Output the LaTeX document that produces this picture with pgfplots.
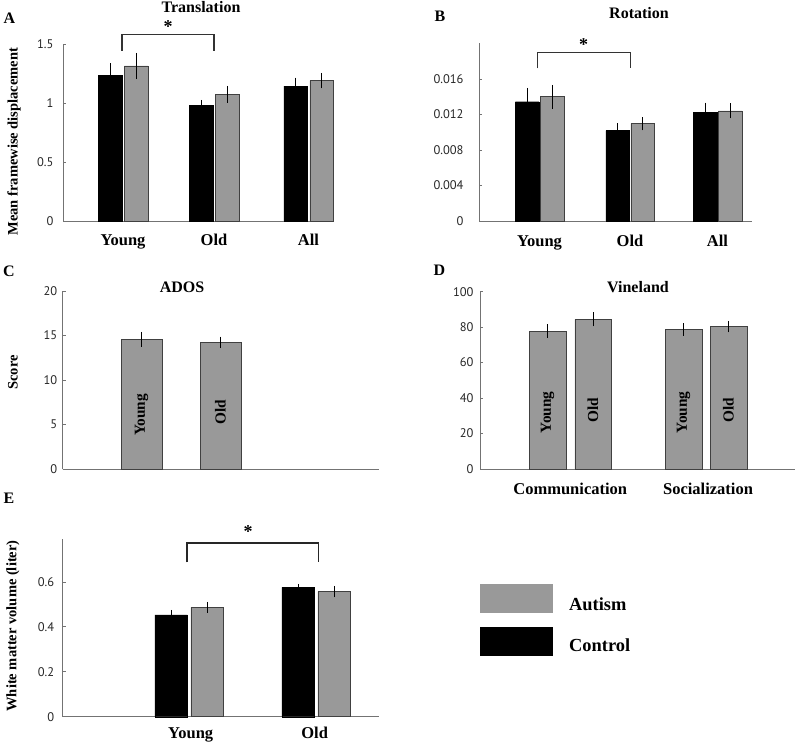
\documentclass[border=0pt]{standalone}
\usepackage{pgfplots}
\pgfplotsset{compat=1.18}
\usepackage{fontspec}
\setmainfont{Liberation Serif}
\newfontfamily\ticksans{PT Sans}
\definecolor{autgray}{RGB}{153,153,153}
\definecolor{axgray}{RGB}{115,115,115}
\newcommand{\fs}[1]{\fontsize{#1}{#1}\selectfont}
\pgfplotsset{
  panel/.style={
    scale only axis,
    axis lines=left,
    axis line style={axgray, line width=0.9pt, -},
    xmin=0, ymin=0,
    xtick style={draw=none},
    ytick style={axgray, line width=0.8pt},
    major tick length=3pt,
    tick align=inside,
    yticklabel style={font=\fs{12.5}\ticksans, text=black!85, anchor=east},
    xticklabel style={font=\fs{16.5}\bfseries, anchor=base, yshift=-22pt},
    scaled y ticks=false,
    clip=false,
    ybar,
  },
  ctrl/.style={fill=black, draw=black, line width=0.4pt},
  aut/.style={fill=autgray, draw=black!75, line width=0.5pt},
  ebar/.style={
    error bars/y dir=both, error bars/y explicit,
    error bars/error bar style={black, line width=0.5pt},
    error bars/error mark options={black, mark size=1.3pt, line width=0.5pt}},
}
\begin{document}
\begin{tikzpicture}
\useasboundingbox (0pt,0pt) rectangle (800pt,-743pt);

% ---------- Panel A ----------
\begin{axis}[panel, at={(63pt,-221pt)}, anchor=south west, width=270pt, height=177pt,
  xmax=270, ymax=1.5, ytick={0,0.5,1,1.5}, yticklabels={0,0.5,1,1.5},
  yticklabel style={xshift=-6pt},
  xtick={60,151,245.5}, xticklabels={Young,Old,All}, bar width=23.5]
\addplot[ctrl, bar shift=-13, ebar] coordinates {(60,1.235) +- (0,0.09) (151,0.98) +- (0,0.035) (245.5,1.144) +- (0,0.06)};
\addplot[aut, bar shift=13, ebar] coordinates {(60,1.314) +- (0,0.10) (151,1.074) +- (0,0.06) (245.5,1.189) +- (0,0.055)};
\end{axis}

% ---------- Panel B ----------
\begin{axis}[panel, at={(479pt,-221pt)}, anchor=south west, width=273pt, height=177.5pt,
  xmax=273, ymax=0.02, ytick={0,0.004,0.008,0.012,0.016}, yticklabels={0,0.004,0.008,0.012,0.016},
  yticklabel style={xshift=-12pt},
  xtick={60.5,151,238.5}, xticklabels={Young,Old,All}, bar width=23.5]
\addplot[ctrl, bar shift=-12.5, ebar] coordinates {(60.5,0.01344) +- (0,0.0014) (151,0.01018) +- (0,0.0007) (238.5,0.01228) +- (0,0.0009)};
\addplot[aut, bar shift=12.5, ebar] coordinates {(60.5,0.0140) +- (0,0.0012) (151,0.01096) +- (0,0.0006) (238.5,0.0124) +- (0,0.0007)};
\end{axis}

% ---------- Panel C ----------
\begin{axis}[panel, at={(62.7pt,-469pt)}, anchor=south west, width=316.3pt, height=178pt,
  xmax=316.3, ymax=20, ytick={0,5,10,15,20}, yticklabels={0,5,10,15,20},
  yticklabel style={xshift=-2pt},
  xtick=\empty, bar width=41]
\addplot[aut, bar shift=0, ebar] coordinates {(78.8,14.57) +- (0,0.7) (157.8,14.24) +- (0,0.5)};
\node[rotate=90, font=\fs{15.3}\bfseries] at (axis cs:78.8,6.1) {Young};
\node[rotate=90, font=\fs{15.3}\bfseries] at (axis cs:157.8,6.4) {Old};
\end{axis}

% ---------- Panel D ----------
\begin{axis}[panel, at={(480pt,-469pt)}, anchor=south west, width=315pt, height=177.3pt,
  xmax=315, ymax=100, ytick={0,20,40,60,80,100}, yticklabels={0,20,40,60,80,100},
  yticklabel style={xshift=-3pt},
  xtick={90.25,228}, xticklabels={Communication,Socialization}, bar width=36.5]
\addplot[aut, bar shift=0, ebar] coordinates {(67.5,77.8) +- (0,3.0) (113,84.4) +- (0,3.2) (203.5,78.8) +- (0,2.8) (248.5,80.3) +- (0,2.5)};
\node[rotate=90, font=\fs{15.3}\bfseries] at (axis cs:67.5,31.9) {Young};
\node[rotate=90, font=\fs{15.3}\bfseries] at (axis cs:113,33.3) {Old};
\node[rotate=90, font=\fs{15.3}\bfseries] at (axis cs:203.5,31.9) {Young};
\node[rotate=90, font=\fs{15.3}\bfseries] at (axis cs:248.5,33.3) {Old};
\end{axis}

% ---------- Panel E ----------
\begin{axis}[panel, at={(62.7pt,-716.7pt)}, anchor=south west, width=316.3pt, height=177.4pt,
  xmax=316.3, ymax=0.79, ytick={0,0.2,0.4,0.6}, yticklabels={0,0.2,0.4,0.6},
  yticklabel style={xshift=-5pt},
  xticklabel style={yshift=3.5pt},
  xtick={128,252}, xticklabels={Young,Old}, bar width=32.5]
\addplot[ctrl, bar shift=-18, ebar] coordinates {(126.5,0.454) +- (0,0.016) (253.5,0.576) +- (0,0.010)};
\addplot[aut, bar shift=18, ebar] coordinates {(126.5,0.487) +- (0,0.019) (253.5,0.557) +- (0,0.020)};
\end{axis}

% ---------- significance brackets ----------
\draw[black!80, line width=1.3pt] (122pt,-51pt) -- (122pt,-34.7pt) -- (214pt,-34.7pt) -- (214pt,-51pt);
\node[font=\fs{18}\bfseries, anchor=base] at (168pt,-33pt) {*};
\draw[black!80, line width=1.3pt] (537.7pt,-68.3pt) -- (537.7pt,-52.3pt) -- (630.7pt,-52.3pt) -- (630.7pt,-68.3pt);
\node[font=\fs{18}\bfseries, anchor=base] at (583.7pt,-50.5pt) {*};
\draw[black!85, line width=1.6pt] (186.7pt,-562.3pt) -- (186.7pt,-542.7pt) -- (318.3pt,-542.7pt) -- (318.3pt,-562.3pt);
\node[font=\fs{18}\bfseries, anchor=base] at (248pt,-537pt) {*};

% ---------- titles and panel letters ----------
\node[font=\fs{16}\bfseries, anchor=base] at (201pt,-12.7pt) {Translation};
\node[font=\fs{16}\bfseries, anchor=base] at (639pt,-18.3pt) {Rotation};
\node[font=\fs{16}\bfseries, anchor=base] at (182pt,-292.7pt) {ADOS};
\node[font=\fs{16}\bfseries, anchor=base] at (638pt,-292.3pt) {Vineland};
\node[font=\fs{16}\bfseries, anchor=base] at (9.3pt,-24pt) {A};
\node[font=\fs{16}\bfseries, anchor=base] at (440pt,-21.7pt) {B};
\node[font=\fs{16}\bfseries, anchor=base] at (9pt,-276.7pt) {C};
\node[font=\fs{16}\bfseries, anchor=base] at (439.3pt,-276pt) {D};
\node[font=\fs{16}\bfseries, anchor=base] at (9pt,-503.5pt) {E};

% ---------- y labels ----------
\node[rotate=90, font=\fs{14.5}\bfseries] at (14pt,-141.7pt) {Mean framewise displacement};
\node[rotate=90, font=\fs{14.5}\bfseries] at (13pt,-372.5pt) {Score};
\node[rotate=90, font=\fs{14.5}\bfseries] at (13pt,-626pt) {White matter volume (liter)};

% ---------- legend ----------
\fill[autgray] (480pt,-584pt) rectangle (553pt,-612.7pt);
\fill[black] (480pt,-627pt) rectangle (553pt,-655.7pt);
\node[font=\fs{18.4}\bfseries, anchor=base west, inner sep=0pt] at (569pt,-610.7pt) {Autism};
\node[font=\fs{18.4}\bfseries, anchor=base west, inner sep=0pt] at (569pt,-651.7pt) {Control};
\end{tikzpicture}
\end{document}
